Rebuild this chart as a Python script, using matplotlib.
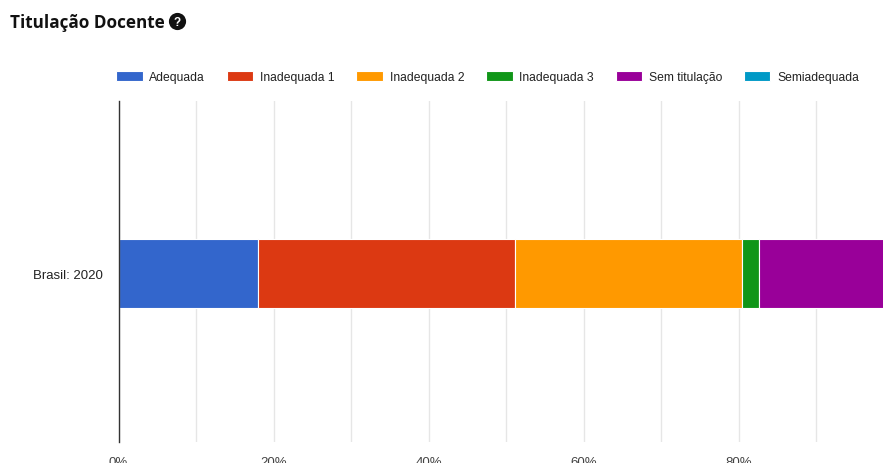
import numpy as np
import matplotlib
matplotlib.use("Agg")
import matplotlib.pyplot as plt

# ---------------------------------------------------------------------------
# data
# ---------------------------------------------------------------------------
CATEGORY = ["Brasil: 2020"]
SERIES = ["Adequada", "Inadequada 1", "Inadequada 2", "Inadequada 3",
          "Sem titulação", "Semiadequada"]
VALUES = [18.0, 33.2, 29.3, 2.2, 17.2, 0.1]     # percent of teachers
COLORS = ["#3366cc", "#dc3912", "#ff9900", "#109618", "#990099", "#0099c6"]
XTICKS = [0, 20, 40, 60, 80]
XTICK_LABELS = ["0%", "20%", "40%", "60%", "80%"]

W, H = 883, 464

plt.rcParams["font.family"] = ["Liberation Sans", "DejaVu Sans"]

fig = plt.figure(figsize=(W / 100, H / 100), dpi=100)
# plot area runs past the right edge, as in the cropped screenshot
ax = fig.add_axes([118.5 / W, 21 / H, 775 / W, 341 / H])

left = 0.0
for name, val, col in zip(SERIES, VALUES, COLORS):
    ax.barh(0, val, left=left, height=0.2, color=col, edgecolor="white",
            linewidth=0.8, label=name, zorder=3)
    left += val

ax.set_xlim(0, 100)
ax.set_ylim(-0.494, 0.506)
ax.set_yticks([0])
ax.set_yticklabels(CATEGORY, fontsize=9.5, color="#222222")
ax.set_xticks(XTICKS)
ax.set_xticklabels(XTICK_LABELS, fontsize=9.5, color="#444444")
ax.set_xticks(np.arange(0, 101, 10), minor=True)
ax.tick_params(axis="y", length=0, pad=11.5)
ax.tick_params(axis="x", which="both", length=0, pad=10)
ax.grid(True, axis="x", which="both", color="#e6e6e6", lw=1, zorder=0)

for s in ("top", "right", "bottom"):
    ax.spines[s].set_visible(False)
ax.spines["left"].set_color("#333333")
ax.spines["left"].set_linewidth(1)
ax.spines["left"].set_zorder(4)

# legend row above the plot
fig.legend(loc="center left", bbox_to_anchor=(116 / W, 1 - 78 / H), ncol=6,
           frameon=False, fontsize=8.7, handlelength=2.2, handleheight=0.85,
           handletextpad=0.55, columnspacing=1.8, borderpad=0,
           borderaxespad=0, labelcolor="#222222")

# title with the little help icon
fig.text(10 / W, 1 - 23 / H, "Titulação Docente", fontsize=12.3,
         fontweight="bold", family=["Open Sans", "DejaVu Sans"],
         color="#111111", va="center", ha="left")
fig.text(177.5 / W, 1 - 22.5 / H, "?", fontsize=8.5, fontweight="bold",
         color="white", ha="center", va="center",
         bbox=dict(boxstyle="circle,pad=0.22", fc="#111111", ec="none"))

fig.savefig("out.png", dpi=100)
